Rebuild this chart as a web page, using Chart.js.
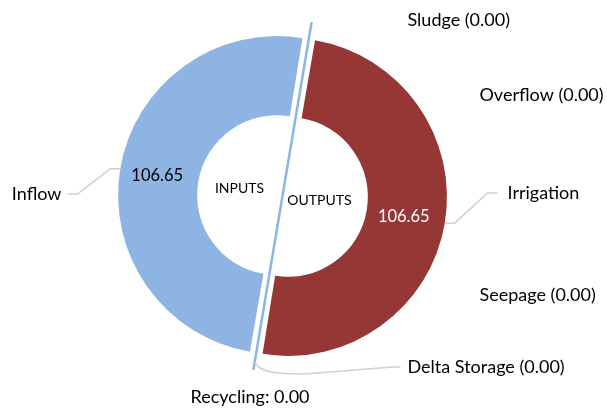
<!DOCTYPE html>
<html>
<head>
<meta charset="utf-8">
<script src="https://cdn.jsdelivr.net/npm/chart.js@4.4.1/dist/chart.umd.min.js"></script>
<style>
  html, body { margin: 0; padding: 0; background: #fff; }
  #wrap { width: 607px; height: 412px; }
</style>
</head>
<body>
<div id="wrap"><canvas id="balanceChart" width="607" height="412"></canvas></div>
<script>
// Water balance doughnut: outputs fill the right half, inputs the left half
const sliceLabels = ['Sludge', 'Overflow', 'Irrigation', 'Seepage', 'Delta Storage', 'Recycling', 'Inflow'];
const sliceValues = [0, 0, 106.65, 0, 0, 0, 106.65];
const sliceSides  = ['out', 'out', 'out', 'out', 'out', 'in', 'in'];
const sideTitles  = ['INPUTS', 'OUTPUTS'];

const sideColors = { in: '#8EB4E3', out: '#953735' };
const FONT = 'Lato, "Open Sans", sans-serif';
const LEADER = '#D0D0D0';

// outside label spots, relative to the doughnut centre (px)
const labelSpots = {
  'Sludge':        { dx: 125,  dy: -176, align: 'left' },
  'Overflow':      { dx: 197,  dy: -101, align: 'left' },
  'Irrigation':    { dx: 225,  dy: -3,   align: 'left' },
  'Seepage':       { dx: 197,  dy: 99,   align: 'left' },
  'Delta Storage': { dx: 125,  dy: 171,  align: 'left' },
  'Recycling':     { dx: -92,  dy: 201,  align: 'left' },
  'Inflow':        { dx: -221, dy: -2,   align: 'right' }
};

// leader elbows after the point on the ring, relative to the centre
const leaderBends = {
  'Inflow':     [[-205, -2], [-215, -2]],
  'Irrigation': [[205, -3], [215, -3]]
};

function labelText(i) {
  const name = sliceLabels[i];
  const v = sliceValues[i].toFixed(2);
  if (sliceValues[i] > 0) return name;
  if (sliceSides[i] === 'in') return name + ': ' + v;
  return name + ' (' + v + ')';
}

const balanceLabels = {
  id: 'balanceLabels',
  afterDatasetsDraw(chart) {
    const ctx = chart.ctx;
    const meta = chart.getDatasetMeta(0);
    const arcs = meta.data;
    const cx = arcs[0].x, cy = arcs[0].y;
    const offset = chart.data.datasets[0].offset / 2;
    const outerR = arcs[0].outerRadius;

    ctx.save();

    // thin recycling divider along the input/output split
    const split = arcs[sliceSides.indexOf('in')].startAngle;
    const reach = outerR + offset + 12;
    ctx.strokeStyle = sideColors.in;
    ctx.lineWidth = 2.5;
    ctx.beginPath();
    ctx.moveTo(cx + Math.cos(split) * reach, cy + Math.sin(split) * reach);
    ctx.lineTo(cx - Math.cos(split) * reach, cy - Math.sin(split) * reach);
    ctx.stroke();

    // leader lines
    ctx.strokeStyle = LEADER;
    ctx.lineWidth = 1.5;
    arcs.forEach((arc, i) => {
      const name = sliceLabels[i];
      if (leaderBends[name]) {
        const mid = (arc.startAngle + arc.endAngle) / 2;
        const r = arc.outerRadius + offset;
        ctx.beginPath();
        ctx.moveTo(cx + Math.cos(mid) * r, cy + Math.sin(mid) * r);
        ctx.lineTo(cx + Math.cos(mid) * r + (Math.cos(mid) < 0 ? -10 : 10), cy + Math.sin(mid) * r);
        leaderBends[name].forEach(p => ctx.lineTo(cx + p[0], cy + p[1]));
        ctx.stroke();
      }
      if (name === 'Delta Storage') {
        const a = arc.startAngle;
        const r = arc.outerRadius + offset + 4;
        ctx.beginPath();
        ctx.moveTo(cx + Math.cos(a) * r, cy + Math.sin(a) * r);
        ctx.bezierCurveTo(cx - 23, cy + 176, cx - 8, cy + 178, cx + 22, cy + 178);
        ctx.lineTo(cx + 110, cy + 171);
        ctx.lineTo(cx + 118, cy + 171);
        ctx.stroke();
      }
    });

    // names round the ring
    ctx.textBaseline = 'middle';
    ctx.font = '18px ' + FONT;
    ctx.fillStyle = '#000';
    sliceLabels.forEach((name, i) => {
      const s = labelSpots[name];
      ctx.textAlign = s.align;
      ctx.fillText(labelText(i), cx + s.dx, cy + s.dy);
    });

    // values on the coloured halves
    ctx.textAlign = 'center';
    ctx.font = '16.5px ' + FONT;
    arcs.forEach((arc, i) => {
      if (sliceValues[i] <= 0) return;
      const p = arc.getCenterPoint();
      ctx.fillStyle = sliceSides[i] === 'out' ? '#fff' : '#000';
      ctx.fillText(sliceValues[i].toFixed(2), p.x - 2, p.y);
    });

    // side titles in the hole
    ctx.font = '14px ' + FONT;
    ctx.fillStyle = '#000';
    ctx.fillText(sideTitles[0], cx - 43, cy - 8);
    ctx.fillText(sideTitles[1], cx + 37, cy + 4);

    ctx.restore();
  }
};

new Chart(document.getElementById('balanceChart'), {
  type: 'doughnut',
  data: {
    labels: sliceLabels,
    datasets: [{
      data: sliceValues,
      backgroundColor: sliceSides.map(s => sideColors[s]),
      borderWidth: 0,
      offset: 22
    }]
  },
  options: {
    responsive: false,
    animation: false,
    rotation: 9.5,
    radius: 153.5,
    cutout: '48.5%',
    layout: { padding: { left: 0, right: 42, top: 0, bottom: 20 } },
    plugins: {
      legend: { display: false },
      tooltip: { enabled: false }
    }
  },
  plugins: [balanceLabels]
});
</script>
</body>
</html>
